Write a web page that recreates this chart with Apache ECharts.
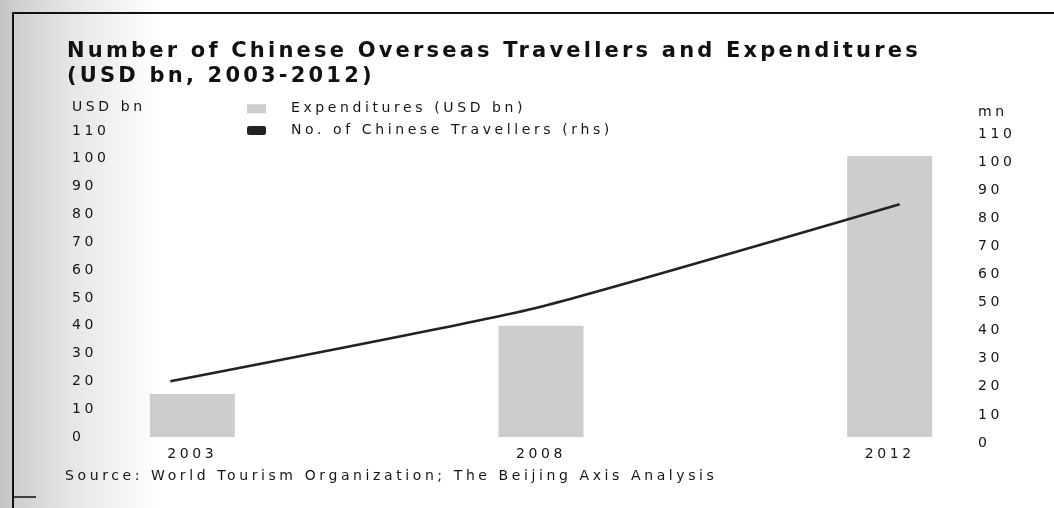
<!DOCTYPE html>
<html>
<head>
<meta charset="utf-8">
<script src="https://cdn.jsdelivr.net/npm/echarts@6/dist/echarts.min.js"></script>
<style>
    html, body { margin: 0; padding: 0; background: #ffffff; }
    #chart { width: 1054px; height: 508px; }
</style>
</head>
<body>
<div id="chart"></div>
<script>
// data
var years = ["2003", "2008", "2012"];
var expenditures = [15.5, 40, 101];   // USD bn, left axis
var travellers = [22, 48, 85];        // mn, right axis
var axisMin = 0;
var axisMax = 110;
var axisStep = 10;

var textColor = "#161616";
var font = "DejaVu Sans";

// the original uses a wide, letter-spaced face: widen every canvas text the same way
// (measureText too, so echarts lays it out with the extra width)
["fillText", "strokeText", "measureText"].forEach(function (fn) {
    var orig = CanvasRenderingContext2D.prototype[fn];
    CanvasRenderingContext2D.prototype[fn] = function () {
        this.letterSpacing = this.font.indexOf("bold") >= 0 ? "3.2px" : "3.6px";
        return orig.apply(this, arguments);
    };
});

function drawChart() {
    var myChart = echarts.init(document.getElementById("chart"));

    var option = {
        animation: false,
        textStyle: { fontFamily: font, color: textColor },
        title: {
            text: "Number of Chinese Overseas Travellers and Expenditures\n(USD bn, 2003-2012)",
            left: 62,
            top: 34,
            textStyle: {
                fontFamily: font,
                fontWeight: "bold",
                fontSize: 21,
                lineHeight: 25,
                color: "#111111",
            },
        },
        legend: {
            orient: "vertical",
            left: 247,
            top: 100,
            padding: 0,
            itemWidth: 19,
            itemHeight: 9,
            itemGap: 4,
            textStyle: { fontFamily: font, fontSize: 14, color: textColor, padding: [0, 0, 0, 20] },
            data: [
                { name: "Expenditures (USD bn)", icon: "rect", itemStyle: { color: "#cdcdcd" } },
                { name: "No. of Chinese Travellers (rhs)", icon: "roundRect", itemStyle: { color: "#222222" } },
            ],
        },
        graphic: [
            // grey scan background at the left edge
            { type: "rect", z: -10, shape: { x: 0, y: 0, width: 160, height: 508 },
              style: { fill: new echarts.graphic.LinearGradient(0, 0, 1, 0, [
                  { offset: 0, color: "#c4c4c4" },
                  { offset: 0.1, color: "#cfcfcf" },
                  { offset: 0.45, color: "#e6e6e6" },
                  { offset: 1, color: "#ffffff" },
              ]) } },
            { type: "line", z: -5, shape: { x1: 13, y1: 13, x2: 1054, y2: 13 }, style: { stroke: "#111", lineWidth: 2 } },
            { type: "line", z: -5, shape: { x1: 13, y1: 12, x2: 13, y2: 508 }, style: { stroke: "#111", lineWidth: 2 } },
            { type: "line", z: -5, shape: { x1: 13, y1: 497, x2: 36, y2: 497 }, style: { stroke: "#111", lineWidth: 1.5 } },
            { type: "text", left: 72, top: 99, style: { text: "USD bn", font: "14px " + font, fill: textColor } },
            { type: "text", left: 978, top: 104, style: { text: "mn", font: "14px " + font, fill: textColor } },
            { type: "text", left: 65, top: 468,
              style: { text: "Source: World Tourism Organization; The Beijing Axis Analysis", font: "14px " + font, fill: textColor } },
        ],
        grid: [
            { left: 18, right: -10, top: 131, bottom: 71, outerBoundsMode: "none" },
            { left: -12, right: -28, top: 134, bottom: 65, outerBoundsMode: "none" },
        ],
        xAxis: [
            {
                type: "category",
                gridIndex: 0,
                data: years,
                axisLine: { show: false },
                axisTick: { show: false },
                axisLabel: { color: textColor, fontFamily: font, fontSize: 14, margin: 9 },
            },
            {
                type: "category",
                gridIndex: 1,
                data: years,
                show: false,
            },
        ],
        yAxis: [
            {
                type: "value",
                gridIndex: 0,
                position: "left",
                min: axisMin,
                max: axisMax,
                interval: axisStep,
                axisLine: { show: false },
                axisTick: { show: false },
                splitLine: { show: false },
                axisLabel: { inside: true, align: "left", margin: 54, color: textColor, fontFamily: font, fontSize: 14 },
            },
            {
                type: "value",
                gridIndex: 1,
                position: "right",
                min: axisMin,
                max: axisMax,
                interval: axisStep,
                axisLine: { show: false },
                axisTick: { show: false },
                splitLine: { show: false },
                axisLabel: { inside: true, align: "left", margin: 104, color: textColor, fontFamily: font, fontSize: 14 },
            },
        ],
        series: [
            {
                name: "Expenditures (USD bn)",
                type: "bar",
                xAxisIndex: 0,
                yAxisIndex: 0,
                barWidth: 85,
                itemStyle: { color: "#cdcdcd" },
                data: expenditures,
            },
            {
                name: "No. of Chinese Travellers (rhs)",
                type: "line",
                xAxisIndex: 1,
                yAxisIndex: 1,
                symbol: "none",
                smooth: 0.15,
                lineStyle: { color: "#222222", width: 2.5 },
                itemStyle: { color: "#222222" },
                data: travellers,
            },
        ],
    };

    myChart.setOption(option);
}

drawChart();
</script>
</body>
</html>
